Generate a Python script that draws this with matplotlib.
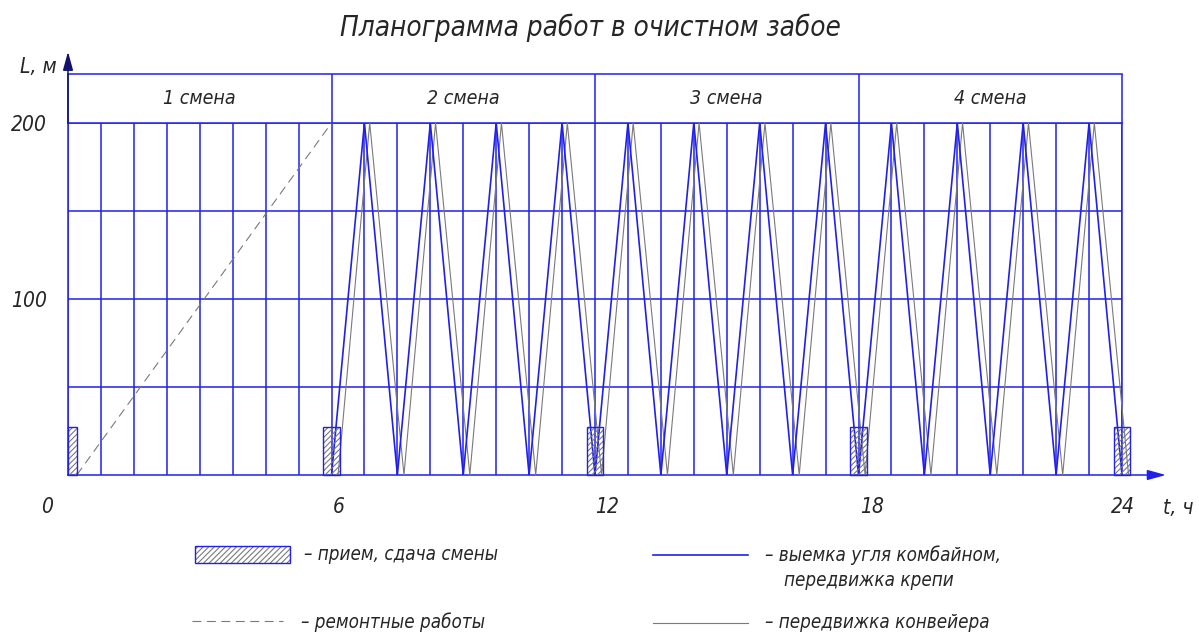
import numpy as np
import matplotlib
matplotlib.use('Agg')
import matplotlib.pyplot as plt
import matplotlib.transforms as mtransforms
from matplotlib import font_manager
from matplotlib.patches import Rectangle

# shifts and axes
shift_edges = [0, 6, 12, 18, 24]
shift_names = ['1 смена', '2 смена', '3 смена', '4 смена']
x_ticks = [0, 6, 12, 18, 24]
y_ticks = [100, 200]
y_minor = [50, 150]
header_top = 228

# coal cutting by the shearer + roof support advance (blue)
combine_t = [6.0, 6.75, 7.5, 8.25, 9.0, 9.75, 10.5, 11.25,
             12.0, 12.75, 13.5, 14.25, 15.0, 15.75, 16.5, 17.25,
             18.0, 18.75, 19.5, 20.25, 21.0, 21.75, 22.5, 23.25, 24.0]
combine_L = [0, 200, 0, 200, 0, 200, 0, 200,
             0, 200, 0, 200, 0, 200, 0, 200,
             0, 200, 0, 200, 0, 200, 0, 200, 0]

# conveyor advance (grey)
conveyor_t = [6.15, 6.87, 7.65, 8.37, 9.15, 9.87, 10.65, 11.37,
              12.15, 12.87, 13.65, 14.37, 15.15, 15.87, 16.65, 17.37,
              18.15, 18.87, 19.65, 20.37, 21.15, 21.87, 22.65, 23.37, 24.15]
conveyor_L = [0, 200, 0, 200, 0, 200, 0, 200,
              0, 200, 0, 200, 0, 200, 0, 200,
              0, 200, 0, 200, 0, 200, 0, 200, 0]

# repair works (dashed)
repair_t = [0.2, 6.0]
repair_L = [0, 200]

# shift handover
handover_start = [0.0, 5.81, 11.81, 17.81, 23.81]
handover_end = [0.2, 6.19, 12.19, 18.19, 24.19]
handover_L = 27

BLUE = '#2020ea'
NAVY = '#12126e'
GREY = '#7a7a7a'
TEXT = '#262626'


def pick_font():
    try:
        font_manager.findfont(font_manager.FontProperties(family='Liberation Sans Narrow'),
                              fallback_to_default=False)
        return 'Liberation Sans Narrow', 'normal'
    except ValueError:
        return 'DejaVu Sans', 'condensed'


family, stretch = pick_font()
plt.rcParams['font.family'] = [family, 'DejaVu Sans']
plt.rcParams['font.style'] = 'italic'
plt.rcParams['font.stretch'] = stretch
plt.rcParams['hatch.linewidth'] = 0.8

W, H = 1199, 634
fig = plt.figure(figsize=(W / 100, H / 100), dpi=100)
ax = fig.add_axes([68 / W, (H - 475) / H, 1054 / W, 352 / H])
ax.set_xlim(0, 24)
ax.set_ylim(0, 200)

# grid
ax.set_xticks(x_ticks)
ax.set_xticks(np.arange(0, 24.01, 0.75), minor=True)
ax.set_yticks(y_ticks)
ax.set_yticks(y_minor, minor=True)
ax.grid(which='both', color=BLUE, lw=1.1)
ax.set_axisbelow(True)
for sp in ax.spines.values():
    sp.set_color(BLUE)
    sp.set_linewidth(1.1)
ax.tick_params(which='both', length=0, labelsize=15, colors=TEXT)
ax.tick_params(axis='x', pad=16)
ax.tick_params(axis='y', pad=15)

# small horizontal nudges of the hour labels, as in the drawing
for lbl, dx in zip(ax.get_xticklabels(), [-21, 7, 12, 14, 1]):
    lbl.set_transform(lbl.get_transform() + mtransforms.ScaledTranslation(dx / 100, 0, fig.dpi_scale_trans))

# header with shift names
ax.plot([0, 24], [header_top, header_top], color=BLUE, lw=1.1, clip_on=False)
ax.vlines(shift_edges, 200, header_top, color=BLUE, lw=1.1, clip_on=False)
for a, b, name in zip(shift_edges[:-1], shift_edges[1:], shift_names):
    ax.text((a + b) / 2, 214, name, ha='center', va='center', fontsize=14, color=TEXT)

# axis arrows
ax.annotate('', xy=(0, 240.5), xytext=(0, 200),
            arrowprops=dict(arrowstyle='-|>,head_length=0.8,head_width=0.22', color=NAVY,
                            lw=1.1, mutation_scale=14, shrinkA=0, shrinkB=0),
            annotation_clip=False)
ax.annotate('', xy=(25.0, 0), xytext=(24, 0),
            arrowprops=dict(arrowstyle='-|>,head_length=0.8,head_width=0.22', color=BLUE,
                            lw=1.1, mutation_scale=14, shrinkA=0, shrinkB=0),
            annotation_clip=False)
ax.text(-0.68, 232, 'L, м', ha='center', va='center', fontsize=15, color=TEXT)
ax.text(25.27, -18.8, 't, ч', ha='center', va='center', fontsize=15, color=TEXT)

# work lines
ax.plot(repair_t, repair_L, color=GREY, lw=0.8, ls=(0, (8, 5)), zorder=3)
ax.plot(conveyor_t, conveyor_L, color=GREY, lw=0.8, zorder=3, clip_on=False)
ax.plot(combine_t, combine_L, color=BLUE, lw=1.2, zorder=4)

for s, e in zip(handover_start, handover_end):
    ax.add_patch(Rectangle((s, 0), e - s, handover_L, fill=False, hatch='//////',
                           edgecolor=GREY, lw=0, zorder=5, clip_on=False))
    ax.add_patch(Rectangle((s, 0), e - s, handover_L, fill=False,
                           edgecolor=BLUE, lw=1.0, zorder=5, clip_on=False))

fig.text(590 / W, 1 - 28 / H, 'Планограмма работ в очистном забое',
         ha='center', va='center', fontsize=20, color=TEXT)

# legend drawn in pixel coordinates of the bottom strip
leg = fig.add_axes([0, 0, 1, 104 / H])
leg.set_xlim(0, W)
leg.set_ylim(H, H - 104)
leg.axis('off')
leg.add_patch(Rectangle((195, 546), 95, 17, fill=False, hatch='//////', edgecolor=GREY, lw=0))
leg.add_patch(Rectangle((195, 546), 95, 17, fill=False, edgecolor=BLUE, lw=1.0))
leg.text(304, 554, '– прием, сдача смены', va='center', fontsize=13.5, color=TEXT)
leg.plot([192, 283], [621, 621], color=GREY, lw=0.8, ls=(0, (8, 5)))
leg.text(301, 622, '– ремонтные работы', va='center', fontsize=13.5, color=TEXT)
leg.plot([653, 748], [555, 555], color=BLUE, lw=1.2)
leg.text(765, 555, '– выемка угля комбайном,', va='center', fontsize=13.5, color=TEXT)
leg.text(784, 580, 'передвижка крепи', va='center', fontsize=13.5, color=TEXT)
leg.plot([653, 748], [623, 623], color=GREY, lw=0.8)
leg.text(765, 623, '– передвижка конвейера', va='center', fontsize=13.5, color=TEXT)

fig.savefig('out.png', dpi=100)
